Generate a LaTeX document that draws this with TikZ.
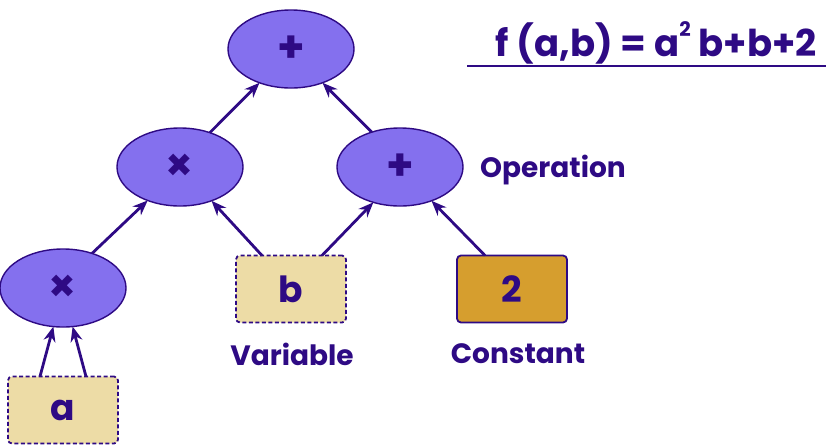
\documentclass[tikz,border=0pt]{standalone}
\usepackage{fontspec}
\setmainfont{Poppins}[UprightFont=* SemiBold, BoldFont=* Bold]
\usetikzlibrary{shapes.geometric,arrows.meta}
\definecolor{ink}{HTML}{2E0A84}
\definecolor{opfill}{HTML}{8470EE}
\definecolor{varfill}{HTML}{EDDCA6}
\definecolor{constfill}{HTML}{D69E2E}
\begin{document}
\begin{tikzpicture}[x=1pt, y=-1pt, inner sep=0pt, outer sep=0pt, font=\bfseries\color{ink}]

\tikzstyle{op}=[draw=ink, line width=1.4pt, fill=opfill, ellipse, minimum width=126pt, minimum height=78pt, font=\fontsize{44}{44}\bfseries\color{ink}]
\tikzstyle{var}=[draw=ink, line width=1.8pt, dash pattern=on 4pt off 2.5pt, fill=varfill, rectangle, rounded corners=4pt, minimum width=110pt, minimum height=67pt, font=\fontsize{36}{36}\bfseries\color{ink}]
\tikzstyle{const}=[var, solid, fill=constfill]
\tikzstyle{lbl}=[font=\fontsize{28}{28}\bfseries\color{ink}]
\tikzstyle{edge}=[draw=ink, line width=2.8pt, -{Stealth[length=15pt,width=12pt]}]

\useasboundingbox (0,0) rectangle (827,445);

\node[op] (add1) at (291,49) {+};
\node[op] (mul1) at (180,167) {×}; \node[op] (add2) at (400,167) {+};
\node[op] (mul2) at (63,288) {×};
\node[var] (varb) at (291,289) {b}; \node[const] (num2) at (512,289) {2};
\node[var] (vara) at (63,410) {a};

\node[lbl] (oplbl) at (553,170) {Operation};
\node[lbl] (varlbl) at (292,354) {Variable};
\node[lbl] (constlbl) at (518,354) {Constant};

\node[font=\fontsize{37}{37}\bfseries\color{ink}] (formula) at (656,43) {f (a,b) = a\raisebox{0.55em}{\fontsize{20}{20}\selectfont 2} b+b+2};
\coordinate (ruleL) at (467,66); \coordinate (ruleR) at (826,66);
\draw[ink, line width=1.2pt] (ruleL) -- (ruleR);

\draw[edge] (mul1.49) -- (add1.-133);
\draw[edge] (add2.129) -- (add1.-47);
\draw[edge] (mul2.50) -- (mul1.-134);
\draw[edge] ([xshift=-29pt]varb.north) -- (mul1.-47);
\draw[edge] ([xshift=31pt]varb.north) -- (add2.-127);
\draw[edge] ([xshift=-27pt]num2.north) -- (add2.-47);
\draw[edge] ([xshift=-23pt]vara.north) -- (mul2.-104);
\draw[edge] ([xshift=23pt]vara.north) -- (mul2.-76);

\end{tikzpicture}
\end{document}
